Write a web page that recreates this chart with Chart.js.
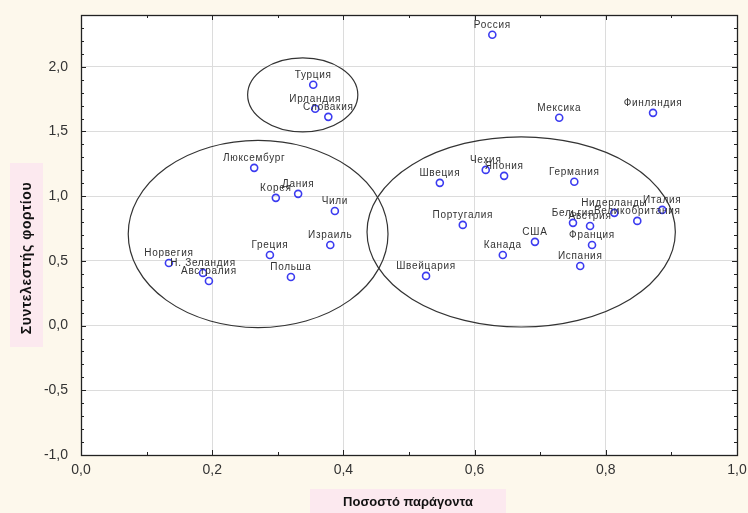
<!DOCTYPE html>
<html>
<head>
<meta charset="utf-8">
<script src="https://cdn.jsdelivr.net/npm/chart.js@4.4.1/dist/chart.umd.min.js"></script>
<style>
body{margin:0;background:#fdf8ec;}
canvas{display:block;}
</style>
</head>
<body>
<canvas id="chart" width="748" height="513"></canvas>
<script>
const countries = ['Россия','Турция','Ирландия','Словакия','Мексика','Финляндия','Германия','Нидерланды','Италия',
  'Великобритания','Бельгия','Австрия','Франция','Испания','США','Канада','Португалия','Швеция','Чехия','Япония',
  'Швейцария','Люксембург','Корея','Дания','Чили','Израиль','Греция','Польша','Норвегия','Н. Зеландия','Австралия'];
const xValues = [0.627,0.354,0.357,0.377,0.729,0.872,0.752,0.813,0.886,
  0.848,0.750,0.776,0.779,0.761,0.692,0.643,0.582,0.547,0.617,0.645,
  0.526,0.264,0.297,0.331,0.387,0.380,0.288,0.320,0.134,0.186,0.195];
const yValues = [2.247,1.861,1.675,1.613,1.606,1.644,1.111,0.871,0.894,
  0.809,0.794,0.770,0.623,0.461,0.647,0.546,0.778,1.103,1.203,1.157,
  0.384,1.219,0.987,1.018,0.886,0.623,0.546,0.376,0.484,0.407,0.345];

const xTicks = [0,0.2,0.4,0.6,0.8,1.0];
const yTicks = [-1,-0.5,0,0.5,1,1.5,2];

// cluster ellipses (centre and half axes, data units)
const clusterCx = [0.338,0.270,0.671];
const clusterCy = [1.783,0.708,0.724];
const clusterRx = [0.084,0.198,0.235];
const clusterRy = [0.286,0.723,0.735];

const xTitle = 'Ποσοστό παράγοντα';
const yTitle = 'Συντελεστής φορτίου';

const fontFamily = '"Liberation Sans", Arial, sans-serif';

function fmt(v){
  return Number(v).toFixed(1).replace('.', ',');
}

const decor = {
  id:'decor',
  beforeDraw(chart){
    const {ctx, chartArea:a} = chart;
    ctx.save();
    ctx.fillStyle = '#fdf8ec';
    ctx.fillRect(0,0,chart.width,chart.height);
    ctx.fillStyle = '#ffffff';
    ctx.fillRect(a.left,a.top,a.right-a.left,a.bottom-a.top);

    // axis titles on pink boxes
    ctx.fillStyle = '#fce9ef';
    ctx.fillRect(310,489,196,24);
    ctx.fillRect(10,163,33,184);
    ctx.fillStyle = '#111';
    ctx.textAlign = 'center';
    ctx.textBaseline = 'middle';
    ctx.font = 'bold 13px ' + fontFamily;
    ctx.fillText(xTitle, 408, 502);
    ctx.translate(27,258);
    ctx.rotate(-Math.PI/2);
    ctx.font = 'bold 14px ' + fontFamily;
    if ('letterSpacing' in ctx) ctx.letterSpacing = '0.6px';
    ctx.fillText(yTitle, 0, 0);
    ctx.restore();
  },
  afterDatasetsDraw(chart){
    const {ctx} = chart;
    const meta = chart.getDatasetMeta(0);
    const xs = chart.scales.x, ys = chart.scales.y;
    ctx.save();
    // point labels
    ctx.font = '10px ' + fontFamily;
    if ('letterSpacing' in ctx) ctx.letterSpacing = '0.7px';
    ctx.fillStyle = '#333';
    ctx.textAlign = 'center';
    ctx.textBaseline = 'middle';
    meta.data.forEach(function(pt,i){
      ctx.fillText(countries[i], pt.x, pt.y - 10);
    });
    if ('letterSpacing' in ctx) ctx.letterSpacing = '0px';

    // ellipses
    ctx.strokeStyle = '#333';
    ctx.lineWidth = 1.2;
    for(let i=0;i<clusterCx.length;i++){
      const cx = xs.getPixelForValue(clusterCx[i]);
      const cy = ys.getPixelForValue(clusterCy[i]);
      const rx = xs.getPixelForValue(clusterCx[i]+clusterRx[i]) - cx;
      const ry = cy - ys.getPixelForValue(clusterCy[i]+clusterRy[i]);
      ctx.beginPath();
      ctx.ellipse(cx,cy,rx,ry,0,0,Math.PI*2);
      ctx.stroke();
    }
    ctx.restore();
  },
  afterDraw(chart){
    const {ctx, chartArea:a} = chart;
    const xs = chart.scales.x, ys = chart.scales.y;
    ctx.save();
    ctx.strokeStyle = '#222';
    ctx.lineWidth = 1;
    ctx.beginPath();
    // minor / major ticks inside the frame, all four sides
    for(let i=0;i<=10;i++){
      const px = Math.round(xs.getPixelForValue(i/10))+0.5;
      const len = (i%2===0) ? 5 : 3;
      ctx.moveTo(px,a.bottom); ctx.lineTo(px,a.bottom-len);
      ctx.moveTo(px,a.top); ctx.lineTo(px,a.top+len);
    }
    for(let i=-10;i<=24;i++){
      const py = Math.round(ys.getPixelForValue(i/10))+0.5;
      const len = (i%5===0) ? 5 : 3;
      ctx.moveTo(a.left,py); ctx.lineTo(a.left+len,py);
      ctx.moveTo(a.right,py); ctx.lineTo(a.right-len,py);
    }
    ctx.stroke();
    ctx.lineWidth = 1.3;
    ctx.strokeRect(a.left+0.5,a.top+0.5,a.right-a.left,a.bottom-a.top);
    ctx.restore();
  }
};

new Chart(document.getElementById('chart'),{

type:'scatter',

data:{
datasets:[{
data:countries.map((c,i)=>({x:xValues[i], y:yValues[i]})),
pointRadius:3.5,
pointBorderWidth:1.6,
pointBorderColor:'#3b3bf0',
pointBackgroundColor:'rgba(255,255,255,0)',
pointHoverRadius:3.5
}]
},

options:{
responsive:false,
animation:false,
devicePixelRatio:1,
layout:{padding:{top:15,right:11,left:0,bottom:0}},

plugins:{
legend:{display:false},
tooltip:{enabled:false}
},

scales:{
x:{
type:'linear',
min:0,
max:1,
afterBuildTicks:function(s){ s.ticks = xTicks.map(v=>({value:v})); },
afterFit:function(s){ s.height = 58; s.paddingLeft = 0; s.paddingRight = 0; },
ticks:{callback:fmt, color:'#333', padding:7, maxRotation:0, autoSkip:false, font:{family:fontFamily, size:14}},
grid:{color:'#dcdcdc', drawTicks:false},
border:{display:false}
},
y:{
type:'linear',
min:-1,
max:2.4,
afterBuildTicks:function(s){ s.ticks = yTicks.map(v=>({value:v})); },
afterFit:function(s){ s.width = 81; s.paddingTop = 0; s.paddingBottom = 0; },
ticks:{callback:fmt, color:'#333', padding:13, autoSkip:false, font:{family:fontFamily, size:14}},
grid:{color:'#dcdcdc', drawTicks:false},
border:{display:false}
}
}
},

plugins:[decor]

});
</script>
</body>
</html>
